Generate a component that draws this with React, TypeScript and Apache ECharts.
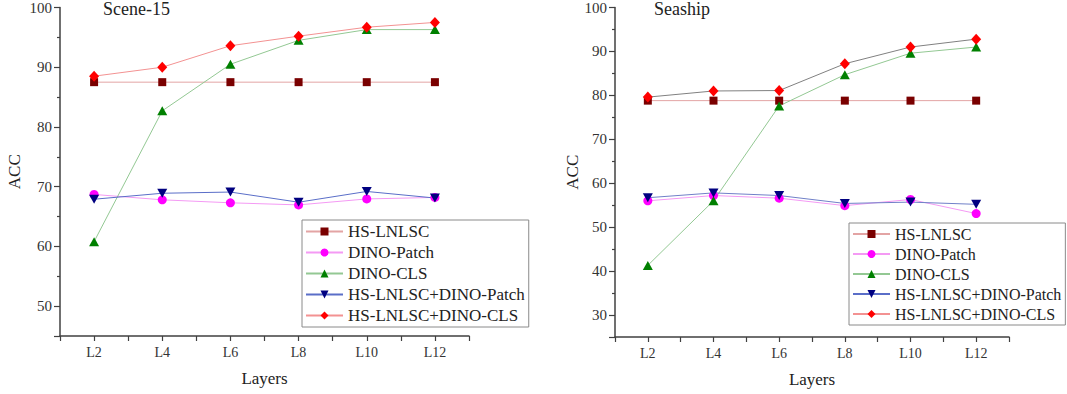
import React, { useEffect, useRef } from 'react';
import * as echarts from 'echarts';

const layers = [2, 4, 6, 8, 10, 12];
const layerLabel = (v: number) => (layers.indexOf(v) >= 0 ? 'L' + v : '');
const seriesNames = ['HS-LNLSC', 'DINO-Patch', 'DINO-CLS', 'HS-LNLSC+DINO-Patch', 'HS-LNLSC+DINO-CLS'];
const panelTitles = ['Scene-15', 'Seaship'];

const sceneHS = [87.5, 87.5, 87.5, 87.5, 87.5, 87.5];
const scenePatch = [68.7, 67.8, 67.3, 66.95, 67.95, 68.2];
const sceneCLS = [60.8, 82.7, 90.5, 94.5, 96.3, 96.3];
const sceneHSPatch = [67.9, 68.9, 69.1, 67.4, 69.2, 68.1];
const sceneHSCLS = [88.5, 90.0, 93.6, 95.2, 96.7, 97.5];

const shipHS = [78.8, 78.8, 78.8, 78.8, 78.8, 78.8];
const shipPatch = [56.0, 57.2, 56.6, 54.9, 56.3, 53.1];
const shipCLS = [41.3, 56.0, 77.6, 84.7, 89.6, 91.0];
const shipHSPatch = [56.7, 57.8, 57.2, 55.4, 55.7, 55.2];
const shipHSCLS = [79.6, 81.0, 81.1, 87.2, 91.0, 92.8];

const FONT = "Liberation Serif";

const markerStyles = [
  { symbol: 'rect', symbolSize: 8, symbolRotate: 0, color: '#7a0000' },
  { symbol: 'circle', symbolSize: 9, symbolRotate: 0, color: '#ff00ff' },
  { symbol: 'triangle', symbolSize: [10, 9], symbolRotate: 0, color: '#008000' },
  { symbol: 'triangle', symbolSize: [10, 9], symbolRotate: 180, color: '#000080' },
  { symbol: 'diamond', symbolSize: [10, 11], symbolRotate: 0, color: '#ff0000' },
];
const sceneLineColors = ['#e3a4a4', '#f49af4', '#93c893', '#5a6ec8', '#f39292'];
const shipLineColors = ['#e3a4a4', '#f49af4', '#93c893', '#7080c8', '#808080'];

function makeSeries(values: number[][], lineColors: string[], axisIdx: number) {
  return values.map((vals, i) => ({
    type: 'line',
    name: seriesNames[i],
    xAxisIndex: axisIdx,
    yAxisIndex: axisIdx,
    data: layers.map((l, j) => [l, vals[j]]),
    symbol: markerStyles[i].symbol,
    symbolSize: markerStyles[i].symbolSize,
    symbolRotate: markerStyles[i].symbolRotate,
    showAllSymbol: true,
    itemStyle: { color: markerStyles[i].color },
    lineStyle: { color: lineColors[i], width: 1 },
    emphasis: { disabled: true },
  }));
}

function xAxisCfg(gridIndex: number) {
  return {
    type: 'value',
    gridIndex,
    min: 1,
    max: 13,
    interval: 1,
    name: 'Layers',
    nameLocation: 'middle',
    nameGap: 34,
    nameTextStyle: { fontFamily: FONT, fontSize: 17, color: '#222' },
    axisLine: { show: true, lineStyle: { color: '#404040', width: 1.5 } },
    axisTick: { show: true, length: 5, lineStyle: { color: '#404040', width: 1.2 } },
    axisLabel: { formatter: layerLabel, fontFamily: FONT, fontSize: 14, color: '#333', margin: 9 },
    splitLine: { show: false },
  };
}

function yAxisCfg(gridIndex: number, min: number, splitNumber: number, nameGap: number) {
  return {
    type: 'value',
    gridIndex,
    min,
    max: 100,
    splitNumber,
    name: 'ACC',
    nameLocation: 'middle',
    nameGap,
    nameTextStyle: { fontFamily: FONT, fontSize: 17, color: '#222' },
    axisLine: { show: true, lineStyle: { color: '#404040', width: 1.5 } },
    axisTick: { show: true, length: 6, lineStyle: { color: '#404040', width: 1.2 } },
    minorTick: { show: true, splitNumber: 2, length: 3, lineStyle: { color: '#404040', width: 1.2 } },
    axisLabel: { fontFamily: FONT, fontSize: 15, color: '#333', showMinLabel: false, margin: 8 },
    splitLine: { show: false },
    minorSplitLine: { show: false },
  };
}

function legendCfg(left: number, top: number, fontSize: number) {
  const ts = { fontFamily: FONT, fontSize, color: '#222' };
  return {
    orient: 'vertical',
    left,
    top,
    data: seriesNames,
    formatter: '{t|{name}}',
    itemWidth: 37,
    itemHeight: 10,
    itemGap: 4,
    padding: [3, 4, 3, 3],
    borderColor: '#8a8a8a',
    borderWidth: 1,
    backgroundColor: '#fff',
    textStyle: { ...ts, rich: { t: ts } },
    selectedMode: false,
  };
}

export default function App() {
  const ref = useRef<HTMLDivElement>(null);
  useEffect(() => {
    if (!ref.current) return;
    const chart = echarts.init(ref.current, undefined, { renderer: 'svg' });
    chart.setOption({
      animation: false,
      backgroundColor: '#fff',
      textStyle: { fontFamily: FONT },
      title: [
        { text: panelTitles[0], left: 103, top: 0, padding: 0, textStyle: { fontFamily: FONT, fontSize: 18, fontWeight: 'normal', color: '#222' } },
        { text: panelTitles[1], left: 654, top: 0, padding: 0, textStyle: { fontFamily: FONT, fontSize: 18, fontWeight: 'normal', color: '#222' } },
      ],
      grid: [
        { left: 60, top: 6, width: 409, height: 330 },
        { left: 615, top: 6, width: 394, height: 331 },
      ],
      xAxis: [xAxisCfg(0), xAxisCfg(1)],
      yAxis: [yAxisCfg(0, 45, 5, 37), yAxisCfg(1, 25, 7, 32)],
      legend: [legendCfg(302, 220, 17), legendCfg(849, 223, 16)],
      series: [
        ...makeSeries([sceneHS, scenePatch, sceneCLS, sceneHSPatch, sceneHSCLS], sceneLineColors, 0),
        ...makeSeries([shipHS, shipPatch, shipCLS, shipHSPatch, shipHSCLS], shipLineColors, 1),
      ],
    });
    return () => chart.dispose();
  }, []);
  return <div ref={ref} style={{ position: 'fixed', left: 0, top: 0, width: 1067, height: 394 }} />;
}
